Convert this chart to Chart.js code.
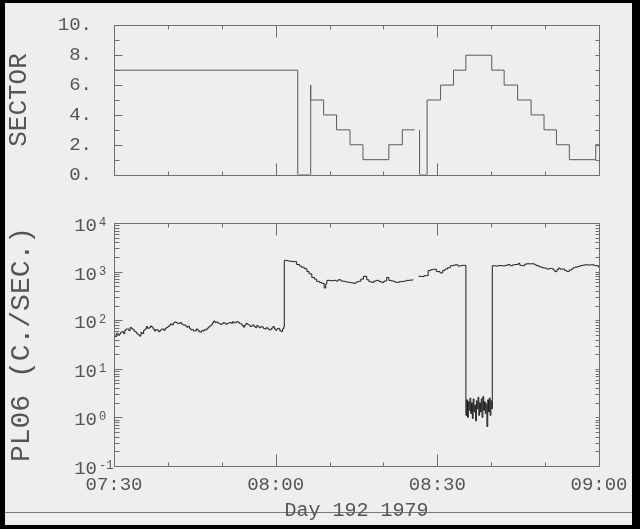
<!DOCTYPE html>
<html>
<head>
<meta charset="utf-8">
<script src="https://cdn.jsdelivr.net/npm/chart.js@4.4.0/dist/chart.umd.min.js"></script>
<style>
  html, body { margin: 0; padding: 0; background: #000; width: 640px; height: 529px; overflow: hidden; }
  #papier { position: absolute; left: 5px; top: 3px; width: 627px; height: 522px; background: #eeeeee; }
  #scanLinie { position: absolute; left: 5px; top: 512px; width: 627px; height: 1px; background: #7a7a7a; }
  canvas { position: absolute; left: 0; }
</style>
</head>
<body>
<div id="papier"></div>
<div id="scanLinie"></div>
<canvas id="canvasOben" width="640" height="200" style="top:0px"></canvas>
<canvas id="canvasUnten" width="640" height="329" style="top:200px"></canvas>
<script>
// Zeit in Minuten seit 07:30 (Day 192 1979)
var zeitTicks = [0, 10, 20, 30, 40, 50, 60, 70, 80, 90];
var zeitHauptTicks = [0, 30, 60, 90];
var zeitLabels = ["07:30", "08:00", "08:30", "09:00"];

// oberes Diagramm: SECTOR (Stufen)
var sectorZeiten = [0, 34.1, 36.5, 36.5, 38.9, 41.3, 43.8, 46.2, 51.0, 53.5, 55.8, 55.9, 56.7, 56.7,
  58.1, 60.6, 63.0, 65.3, 70.1, 72.4, 74.9, 77.4, 79.8, 82.1, 84.5, 89.4, 90];
var sectorWerte = [7, 0, 6, 5, 4, 3, 2, 1, 2, 3, 3, null, 3, 0,
  5, 6, 7, 8, 7, 6, 5, 4, 3, 2, 1, 2, 2];
var sectorTicks = [0, 1, 2, 3, 4, 5, 6, 7, 8, 9, 10];

// unteres Diagramm: PL06 Zaehlrate (C./SEC.), abschnittsweise
var vorZeiten = [
  0, 0.25, 0.5, 0.75, 1, 1.25, 1.5, 1.75, 2, 2.25, 2.5, 2.75, 3, 3.25, 3.5, 3.75,
  4, 4.25, 4.5, 4.75, 5, 5.25, 5.5, 5.75, 6, 6.25, 6.5, 6.75, 7, 7.25, 7.5, 7.75,
  8, 8.25, 8.5, 8.75, 9, 9.25, 9.5, 9.75, 10, 10.25, 10.5, 10.75, 11, 11.25, 11.5, 11.75,
  12, 12.25, 12.5, 12.75, 13, 13.25, 13.5, 13.75, 14, 14.25, 14.5, 14.75, 15, 15.25, 15.5, 15.75,
  16, 16.25, 16.5, 16.75, 17, 17.25, 17.5, 17.75, 18, 18.25, 18.5, 18.75, 19, 19.25, 19.5, 19.75,
  20, 20.25, 20.5, 20.75, 21, 21.25, 21.5, 21.75, 22, 22.25, 22.5, 22.75, 23, 23.25, 23.5, 23.75,
  24, 24.25, 24.5, 24.75, 25, 25.25, 25.5, 25.75, 26, 26.25, 26.5, 26.75, 27, 27.25, 27.5, 27.75,
  28, 28.25, 28.5, 28.75, 29, 29.25, 29.5, 29.75, 30, 30.25, 30.5, 30.75, 31, 31.25, 31.5
];
var vorWerte = [
  50, 46, 54, 49, 52, 57, 58, 53, 62, 66, 66, 61, 71, 67, 64, 59,
  57, 52, 50, 47, 56, 53, 62, 66, 74, 68, 70, 76, 72, 66, 60, 64,
  63, 58, 61, 65, 66, 62, 68, 71, 74, 79, 84, 80, 88, 92, 90, 85,
  86, 90, 84, 80, 80, 76, 72, 75, 68, 63, 64, 60, 60, 66, 63, 58,
  57, 61, 60, 64, 63, 68, 72, 76, 80, 88, 96, 90, 92, 87, 86, 82,
  84, 89, 87, 83, 85, 88, 90, 86, 93, 88, 89, 94, 91, 86, 84, 78,
  72, 80, 86, 82, 80, 74, 76, 80, 74, 70, 78, 73, 70, 74, 72, 67,
  66, 70, 68, 63, 64, 69, 74, 66, 62, 67, 68, 61, 58, 66, 72
];
var nachZeiten = [
  31.6, 32.2, 32.8, 33.3, 33.9, 34.4, 34.8, 35.3, 35.8, 36.2, 36.7, 37.2, 37.6, 38.1, 38.5, 39.0, 39.3,
  39.5, 40.1, 40.7, 41.2, 41.6, 42.1, 42.6, 43.0, 43.5, 44.0, 44.4, 44.9, 45.3, 45.8, 46.3, 46.9, 47.3,
  47.8, 48.2, 48.7, 49.2, 49.7, 50.1, 50.6, 51.0, 51.5, 52.0, 52.5, 52.9, 53.4, 53.9, 54.3, 54.9, 55.5
];
var nachWerte = [
  1700, 1650, 1620, 1600, 1400, 1300, 1230, 1150, 1000, 900, 760, 700, 630, 600, 575, 460, 560,
  660, 650, 660, 640, 680, 640, 630, 610, 600, 590, 575, 610, 630, 700, 800, 680, 620,
  600, 640, 660, 620, 600, 640, 760, 660, 640, 610, 600, 620, 630, 640, 660, 670, 680
];
var lueckeZeiten = [55.6];
var lueckeWerte = [null];
var wiederZeiten = [
  56.5, 57.0, 57.5, 58.0, 58.3, 58.8, 59.3, 59.8, 60.5, 61.0, 61.4, 61.9, 62.4, 62.9, 63.3, 63.8, 64.2,
  64.7, 65.1
];
var wiederWerte = [
  800, 790, 820, 830, 1050, 1100, 1120, 1000, 940, 1050, 1130, 1200, 1320, 1350, 1380, 1300, 1320,
  1350, 1340
];
var einbruchZeiten = [
  65.3, 65.45, 65.6, 65.75, 65.9, 66.05, 66.2, 66.35, 66.5, 66.65, 66.8, 66.95, 67.1, 67.25, 67.4, 67.55,
  67.7, 67.85, 68.0, 68.15, 68.3, 68.45, 68.6, 68.75, 68.9, 69.05, 69.2, 69.35, 69.5, 69.65, 69.8, 69.95,
  70.1
];
var einbruchWerte = [
  1.1, 2.3, 1.0, 2.1, 1.4, 2.5, 1.2, 2.0, 0.95, 2.4, 1.3, 1.8, 0.85, 2.2, 1.5, 2.6,
  1.1, 2.0, 1.3, 2.4, 1.0, 2.7, 1.4, 2.1, 1.2, 1.9, 0.65, 2.3, 1.3, 2.5, 1.1, 2.2,
  1.5
];
var endeZeiten = [
  70.2, 70.8, 71.4, 72.0, 72.6, 73.1, 73.5, 74.0, 74.4, 75.0, 75.3, 75.7, 76.2, 76.6, 77.1, 77.5, 78.0,
  78.4, 78.9, 79.4, 79.8, 80.3, 80.8, 81.2, 81.5, 81.8, 82.2, 82.5, 82.8, 83.1, 83.6, 84.0, 84.5, 84.9,
  85.2, 85.5, 86.0, 86.5, 87.0, 87.4, 88.0, 88.6, 89.0, 89.3, 89.9, 90
];
var endeWerte = [
  1320, 1300, 1330, 1310, 1350, 1400, 1320, 1380, 1400, 1480, 1350, 1320, 1420, 1450, 1440, 1450, 1380,
  1320, 1250, 1200, 1180, 1130, 1160, 1150, 1080, 1000, 1100, 1180, 1120, 1130, 1060, 1010, 1080, 1130,
  1200, 1230, 1280, 1330, 1360, 1380, 1370, 1380, 1350, 1320, 1240, 1240
];
var dekadenExponenten = [-1, 0, 1, 2, 3, 4];

var rateZeiten = vorZeiten.concat(nachZeiten, lueckeZeiten, wiederZeiten, einbruchZeiten, endeZeiten);
var rateWerte = vorWerte.concat(nachWerte, lueckeWerte, wiederWerte, einbruchWerte, endeWerte);

var schrift = '"Liberation Mono", "DejaVu Sans Mono", monospace';
var textFarbe = "#555555";
var rahmenFarbe = "#6e6e6e";

function punkte(zeiten, werte) {
  return zeiten.map(function (t, i) { return { x: t, y: werte[i] }; });
}

// Log-Ticks: 1..9 je Dekade
function logTicks() {
  var ticks = [];
  for (var i = 0; i < dekadenExponenten.length; i++) {
    var e = dekadenExponenten[i];
    var bis = i === dekadenExponenten.length - 1 ? 1 : 9;
    for (var m = 1; m <= bis; m++) {
      ticks.push({ wert: m * Math.pow(10, e), haupt: m === 1 });
    }
  }
  return ticks;
}

// Rahmen mit nach innen zeigenden Ticks
var rahmenPlugin = {
  id: "rahmen",
  afterDatasetsDraw: function (chart, args, opts) {
    var ctx = chart.ctx;
    var a = chart.chartArea;
    var xs = chart.scales.x;
    var ys = chart.scales.y;
    var l = Math.round(a.left) + 0.5, r = Math.round(a.right) + 0.5;
    var o = Math.round(a.top) + 0.5, u = Math.round(a.bottom) + 0.5;
    ctx.save();
    ctx.strokeStyle = rahmenFarbe;
    ctx.lineWidth = 1;
    ctx.beginPath();
    ctx.rect(l, o, r - l, u - o);
    zeitTicks.forEach(function (v) {
      var px = Math.round(xs.getPixelForValue(v)) + 0.5;
      var len = (v === 30 || v === 60) ? 12 : 4;
      ctx.moveTo(px, o); ctx.lineTo(px, o + len);
      ctx.moveTo(px, u); ctx.lineTo(px, u - len);
    });
    opts.yTicks.forEach(function (t) {
      var py = Math.round(ys.getPixelForValue(t.wert)) + 0.5;
      ctx.moveTo(l, py); ctx.lineTo(l + (t.haupt ? 8 : 5), py);
      ctx.moveTo(r, py); ctx.lineTo(r - 4, py);
    });
    ctx.stroke();
    ctx.restore();
  }
};

// Beschriftung 10^n links
var logBeschriftung = {
  id: "logBeschriftung",
  afterDraw: function (chart) {
    var ctx = chart.ctx;
    var ys = chart.scales.y;
    var x = chart.chartArea.left - 17;
    ctx.save();
    ctx.fillStyle = textFarbe;
    dekadenExponenten.forEach(function (e) {
      var py = ys.getPixelForValue(Math.pow(10, e));
      ctx.font = "19px " + schrift;
      ctx.textAlign = "right";
      ctx.textBaseline = "alphabetic";
      ctx.fillText("10", x, py + 8);
      ctx.font = "12px " + schrift;
      ctx.textAlign = "left";
      ctx.fillText(String(e), x + 2, py + 3);
    });
    ctx.restore();
  }
};

var sectorTickListe = sectorTicks.map(function (v) { return { wert: v, haupt: v % 2 === 0 }; });

window.chartOben = new Chart(document.getElementById("canvasOben").getContext("2d"), {
  type: "line",
  data: {
    datasets: [{
      data: punkte(sectorZeiten, sectorWerte),
      stepped: true,
      borderColor: "#5a5a5a",
      borderWidth: 1,
      pointRadius: 0,
      spanGaps: false,
      fill: false
    }]
  },
  options: {
    responsive: false,
    animation: false,
    events: [],
    layout: { padding: { left: 0, top: 21, right: 41, bottom: 17 } },
    plugins: {
      legend: { display: false },
      tooltip: { enabled: false },
      rahmen: { yTicks: sectorTickListe }
    },
    scales: {
      x: { type: "linear", min: 0, max: 90, display: false },
      y: {
        min: 0,
        max: 10,
        grid: { display: false },
        border: { display: false },
        ticks: {
          stepSize: 2,
          padding: 14,
          color: textFarbe,
          font: { family: schrift, size: 19 },
          callback: function (v) { return v + "."; }
        },
        title: {
          display: true,
          text: "SECTOR",
          color: textFarbe,
          font: { family: schrift, size: 26 },
          padding: { top: 4, bottom: 0 }
        },
        afterFit: function (s) { s.width = 114; }
      }
    }
  },
  plugins: [rahmenPlugin]
});

window.chartUnten = new Chart(document.getElementById("canvasUnten").getContext("2d"), {
  type: "line",
  data: {
    datasets: [{
      data: punkte(rateZeiten, rateWerte),
      stepped: true,
      borderColor: "#1e1e1e",
      borderWidth: 1,
      pointRadius: 0,
      spanGaps: false,
      fill: false
    }]
  },
  options: {
    responsive: false,
    animation: false,
    events: [],
    layout: { padding: { left: 0, top: 23, right: 41, bottom: 0 } },
    plugins: {
      legend: { display: false },
      tooltip: { enabled: false },
      rahmen: { yTicks: logTicks() }
    },
    scales: {
      x: {
        type: "linear",
        min: 0,
        max: 90,
        grid: { display: false },
        border: { display: false },
        ticks: {
          stepSize: 10,
          autoSkip: false,
          maxRotation: 0,
          minRotation: 0,
          padding: 0,
          color: textFarbe,
          font: { family: schrift, size: 19 },
          callback: function (v) {
            var i = zeitHauptTicks.indexOf(v);
            return i >= 0 ? zeitLabels[i] : "";
          }
        },
        title: {
          display: true,
          text: "Day 192 1979",
          color: textFarbe,
          font: { family: schrift, size: 20 },
          padding: { top: 0, bottom: 6 }
        },
        afterFit: function (s) { s.height = 63; }
      },
      y: {
        type: "logarithmic",
        min: 0.1,
        max: 10000,
        grid: { display: false },
        border: { display: false },
        ticks: { display: false },
        title: {
          display: true,
          text: "PL06 (C./SEC.)",
          color: textFarbe,
          font: { family: schrift, size: 28 },
          padding: { top: 5, bottom: 0 }
        },
        afterFit: function (s) { s.width = 114; }
      }
    }
  },
  plugins: [rahmenPlugin, logBeschriftung]
});
</script>
</body>
</html>
